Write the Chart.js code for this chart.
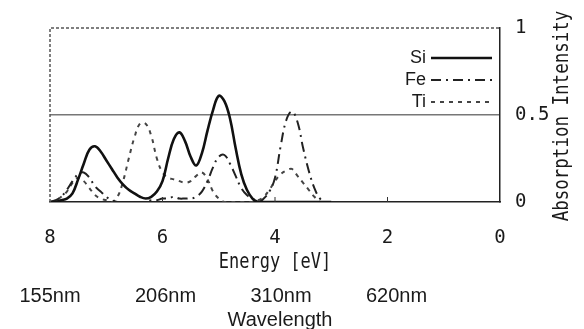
<!DOCTYPE html>
<html>
<head>
<meta charset="utf-8">
<script src="https://cdn.jsdelivr.net/npm/chart.js@4/dist/chart.umd.min.js"></script>
<style>
    html, body { margin: 0; padding: 0; background: #fff; }
    #wrap { width: 584px; height: 329px; }
</style>
</head>
<body>
<div id="wrap"><canvas id="absorptionChart" width="584" height="329"></canvas></div>
<script>
// Photon energy grid [eV]
const energies = [
    8.0, 7.9, 7.8, 7.7, 7.6, 7.5, 7.4, 7.3, 7.2, 7.1,
    7.0, 6.9, 6.8, 6.7, 6.6, 6.5, 6.4, 6.3, 6.2, 6.1,
    6.0, 5.9, 5.8, 5.7, 5.6, 5.5, 5.4, 5.3, 5.2, 5.1,
    5.0, 4.9, 4.8, 4.7, 4.6, 4.5, 4.4, 4.3, 4.2, 4.1,
    4.0, 3.9, 3.8, 3.7, 3.6, 3.5, 3.4, 3.3, 3.2, 3.1,
    3.0
];

// Absorption intensity per element
const siValues = [
    0.00, 0.00, 0.01, 0.02, 0.05, 0.13, 0.22, 0.30, 0.32, 0.29,
    0.24, 0.19, 0.14, 0.10, 0.07, 0.05, 0.03, 0.02, 0.03, 0.06,
    0.12, 0.25, 0.36, 0.40, 0.35, 0.26, 0.21, 0.28, 0.41, 0.53,
    0.61, 0.58, 0.48, 0.31, 0.16, 0.07, 0.02, 0.00, 0.00, 0.00,
    0.00, 0.00, 0.00, 0.00, 0.00, 0.00, 0.00, 0.00, 0.00, 0.00,
    0.00
];
const feValues = [
    0.00, 0.01, 0.03, 0.07, 0.12, 0.16, 0.17, 0.14, 0.09, 0.06,
    0.03, 0.01, 0.00, 0.00, 0.00, 0.00, 0.00, 0.00, 0.01, 0.01,
    0.02, 0.02, 0.03, 0.02, 0.02, 0.02, 0.03, 0.06, 0.12, 0.20,
    0.26, 0.27, 0.22, 0.15, 0.08, 0.04, 0.02, 0.00, 0.02, 0.06,
    0.14, 0.32, 0.47, 0.52, 0.46, 0.31, 0.18, 0.08, 0.02, 0.00,
    0.00
];
const tiValues = [
    0.00, 0.01, 0.03, 0.06, 0.11, 0.14, 0.12, 0.08, 0.04, 0.02,
    0.01, 0.00, 0.03, 0.12, 0.25, 0.37, 0.45, 0.45, 0.38, 0.25,
    0.17, 0.14, 0.13, 0.12, 0.11, 0.12, 0.15, 0.17, 0.13, 0.06,
    0.02, 0.00, 0.00, 0.00, 0.00, 0.00, 0.00, 0.01, 0.03, 0.07,
    0.12, 0.16, 0.18, 0.19, 0.15, 0.11, 0.07, 0.03, 0.00, 0.00,
    0.00
];

// Axis ticks and secondary (wavelength) labels
const energyTicks = [8, 6, 4, 2, 0];
const intensityTicks = [0, 0.5, 1];
const wavelengthEnergies = [8, 6, 4, 2];
const wavelengthLabels = ['155nm', '206nm', '310nm', '620nm'];
const elementNames = ['Si', 'Fe', 'Ti'];

const monoFont = '"DejaVu Sans Mono", monospace';
const sansFont = '"Liberation Sans", Arial, sans-serif';
const inkColor = '#1a1a1a';

function toPoints(values) {
    return energies.map((e, i) => ({ x: e, y: values[i] }));
}

// Draw stretched text (gothic look)
function drawStretched(ctx, text, x, y, rotation, font, stretch) {
    ctx.save();
    ctx.translate(x, y);
    ctx.rotate(rotation);
    ctx.scale(1, stretch);
    ctx.font = font;
    ctx.fillStyle = inkColor;
    ctx.textAlign = 'center';
    ctx.textBaseline = 'middle';
    ctx.fillText(text, 0, 0);
    ctx.restore();
}

// Frame, inner ticks, legend and axis titles
const decorPlugin = {
    id: 'decor',
    afterDraw(chart) {
        const ctx = chart.ctx;
        const area = chart.chartArea;
        const xScale = chart.scales.x;

        ctx.save();
        // dashed top and left frame
        ctx.strokeStyle = '#555';
        ctx.lineWidth = 1.5;
        ctx.setLineDash([3, 2]);
        ctx.beginPath();
        ctx.moveTo(area.left, area.bottom);
        ctx.lineTo(area.left, area.top);
        ctx.lineTo(area.right, area.top);
        ctx.stroke();
        ctx.setLineDash([]);

        // small inner ticks on the energy axis
        ctx.strokeStyle = '#333';
        ctx.lineWidth = 1;
        energyTicks.slice(1, -1).forEach(v => {
            const px = xScale.getPixelForValue(v);
            ctx.beginPath();
            ctx.moveTo(px, area.bottom);
            ctx.lineTo(px, area.bottom - 5);
            ctx.stroke();
        });

        // legend: name on the left, line sample on the right
        chart.data.datasets.forEach((ds, i) => {
            const y = 58 + i * 22;
            ctx.font = '18px ' + sansFont;
            ctx.fillStyle = inkColor;
            ctx.textAlign = 'right';
            ctx.textBaseline = 'middle';
            ctx.fillText(ds.label, 426, y);
            ctx.strokeStyle = ds.borderColor;
            ctx.lineWidth = ds.borderWidth;
            ctx.setLineDash(ds.borderDash || []);
            ctx.beginPath();
            ctx.moveTo(431, y);
            ctx.lineTo(492, y);
            ctx.stroke();
        });
        ctx.setLineDash([]);

        // energy axis title
        const midX = (area.left + area.right) / 2;
        drawStretched(ctx, 'Energy [eV]', midX, 263, 0, '17px ' + monoFont, 1.2);

        // wavelength labels under the energy ticks
        ctx.font = '20px ' + sansFont;
        ctx.fillStyle = inkColor;
        ctx.textAlign = 'center';
        ctx.textBaseline = 'middle';
        wavelengthEnergies.forEach((e, i) => {
            const px = xScale.getPixelForValue(e) + i * 3;
            ctx.fillText(wavelengthLabels[i], px, 296);
        });
        ctx.fillText('Wavelength', midX + 5, 320);

        // intensity axis title, reading upward
        drawStretched(ctx, 'Absorption Intensity', 563, 116, -Math.PI / 2, '17.5px ' + monoFont, 1.2);
        ctx.restore();
    }
};

const chart = new Chart(document.getElementById('absorptionChart'), {
    type: 'line',
    data: {
        datasets: [
            {
                label: elementNames[0],
                data: toPoints(siValues),
                borderColor: '#111',
                borderWidth: 2.6
            },
            {
                label: elementNames[1],
                data: toPoints(feValues),
                borderColor: '#222',
                borderWidth: 2,
                borderDash: [10, 5, 2, 5]
            },
            {
                label: elementNames[2],
                data: toPoints(tiValues),
                borderColor: '#444',
                borderWidth: 2,
                borderDash: [4, 5]
            }
        ]
    },
    options: {
        responsive: false,
        animation: false,
        devicePixelRatio: 1,
        layout: {
            padding: { left: 50, top: 28, right: 0, bottom: 0 }
        },
        elements: {
            point: { radius: 0 },
            line: { tension: 0.4, fill: false }
        },
        plugins: {
            legend: { display: false },
            tooltip: { enabled: false }
        },
        scales: {
            x: {
                type: 'linear',
                reverse: true,
                min: 0,
                max: 8,
                afterBuildTicks: (scale) => {
                    scale.ticks = energyTicks.map(v => ({ value: v }));
                },
                afterFit: (scale) => {
                    scale.height = 127;
                },
                grid: { display: false },
                border: { display: true, color: '#222', width: 1.5 },
                ticks: {
                    padding: 17,
                    color: inkColor,
                    font: { family: monoFont, size: 19 },
                    maxRotation: 0
                }
            },
            y: {
                type: 'linear',
                position: 'right',
                min: 0,
                max: 1,
                afterBuildTicks: (scale) => {
                    scale.ticks = intensityTicks.map(v => ({ value: v }));
                },
                afterFit: (scale) => {
                    scale.width = 84;
                },
                grid: {
                    drawTicks: false,
                    lineWidth: 1.5,
                    color: (ctx) => (ctx.tick && ctx.tick.value === 0.5) ? '#777' : 'rgba(0,0,0,0)'
                },
                border: { display: true, color: '#222', width: 1.5 },
                ticks: {
                    padding: 15,
                    color: inkColor,
                    font: { family: monoFont, size: 19 },
                    callback: (v) => String(v)
                }
            }
        }
    },
    plugins: [decorPlugin]
});
</script>
</body>
</html>
